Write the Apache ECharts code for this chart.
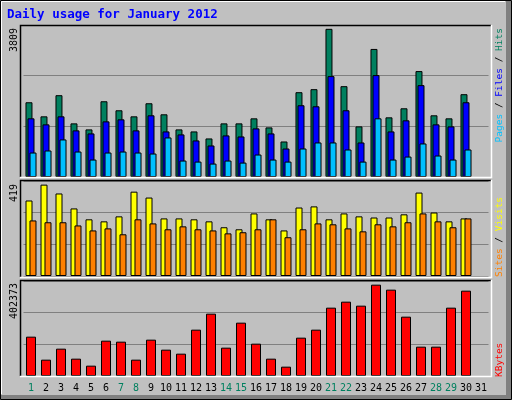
<!DOCTYPE html>
<html><head><meta charset="utf-8">
<script src="https://cdn.jsdelivr.net/npm/echarts@6/dist/echarts.min.js"></script>
<style>html,body{margin:0;padding:0;background:#c0c0c0}#c{width:512px;height:400px}</style>
</head><body><div id="c"></div>
<script>
const days = ['1','2','3','4','5','6','7','8','9','10','11','12','13','14','15','16','17','18','19','20','21','22','23','24','25','26','27','28','29','30','31'];
const weekend = ['1','7','8','14','15','21','22','28','29'];
const hits = [1873,1520,2050,1344,1193,1898,1672,1520,1848,1571,1193,1142,966,1344,1344,1470,1243,890,2125,2201,3713,2276,1268,3209,1495,1722,2654,1546,1470,2075,null];
const files = [1470,1319,1520,1168,1092,1394,1445,1168,1546,1142,1067,916,790,1042,1016,1218,1092,714,1798,1772,2528,1672,865,2554,1142,1420,2302,1319,1268,1873,null];
const pages = [613,664,941,638,437,613,638,613,588,991,412,386,336,412,361,563,437,386,714,865,865,689,386,1470,437,512,840,538,437,689,null];
const visits = [333,403,364,298,250,241,263,372,346,254,254,250,241,215,206,276,250,201,302,307,250,276,263,258,258,272,368,280,241,254,null];
const sites = [245,237,237,223,201,210,184,250,232,206,219,206,201,188,193,206,250,171,206,232,228,210,197,228,219,237,276,241,215,254,null];
const kbytes = [166590,69178,115768,73414,43766,149651,145415,69178,153886,111532,94591,196240,264004,120003,225888,136945,73414,39530,162355,196240,289419,314832,297890,386833,365656,251300,124238,124238,289419,361421,null];
const maxLabels = ['3809','419','402373'];
const maxVals = [3809,419,402373];

const mono = 'DejaVu Sans Mono';
const grids = [{top:25,height:152},{top:181,height:95},{top:281,height:95}];
const frames = [[20,25,491,177],[20,180,491,277],[20,280,491,376]];

function bar(name, data, color, gi, gap){
  return {type:'bar', name, data, xAxisIndex:gi, yAxisIndex:gi, barWidth:7, barGap:gap,
    itemStyle:{color, borderColor:'#000', borderWidth:1}, silent:true, animation:false};
}
const xAxes = grids.map((g,i)=>({type:'category', gridIndex:i, data:days, boundaryGap:true,
  axisLine:{show:false}, axisTick:{show:false},
  axisLabel:{show:i===2, margin:7, fontFamily:mono, fontSize:10, interval:0,
    color:(v)=>weekend.includes(v)?'#00805f':'#000'}}));
const yAxes = grids.map((g,i)=>({type:'value', gridIndex:i, min:0, max:maxVals[i], interval:maxVals[i]/3,
  axisLine:{show:false}, axisTick:{show:false}, axisLabel:{show:false},
  splitLine:{show:true, lineStyle:{color:'#808080', width:1}}}));

const graphic = [
  {type:'rect', shape:{x:0.5,y:0.5,width:511,height:399}, style:{fill:'none', stroke:'#000'}, z:-1},
  {type:'rect', shape:{x:506,y:1,width:5,height:398}, style:{fill:'#808080'}, z:-1},
  {type:'rect', shape:{x:1,y:395,width:510,height:4}, style:{fill:'#808080'}, z:-1},
  {type:'polyline', shape:{points:[[1.5,394],[1.5,1.5],[505,1.5]]}, style:{stroke:'#fff', fill:'none'}, z:-1},
  {type:'text', x:7, y:8, style:{text:'Daily usage for January 2012', fill:'#0000ff', font:'bold 12.5px '+mono}}
];
frames.forEach(f=>{
  graphic.push({type:'rect', shape:{x:f[0],y:f[1],width:f[2]-f[0],height:f[3]-f[1]}, style:{fill:'#c0c0c0'}, z:-1});
  graphic.push({type:'polyline', shape:{points:[[f[0]+0.5,f[3]],[f[0]+0.5,f[1]+0.5],[f[2],f[1]+0.5]]}, style:{stroke:'#000', fill:'none', lineWidth:1.5}, z:10});
  graphic.push({type:'polyline', shape:{points:[[f[0],f[3]+0.5],[f[2]+0.5,f[3]+0.5],[f[2]+0.5,f[1]]]}, style:{stroke:'#fff', fill:'none', lineWidth:1.5}, z:10});
});
const leftTops = [28, 184, 283];
maxLabels.forEach((t,i)=>graphic.push({type:'text', x:14, y:leftTops[i], rotation:Math.PI/2,
  style:{text:t, fill:'#000', font:'10px '+mono, align:'right', verticalAlign:'middle'}}));
const rf = '9.5px '+mono;
graphic.push({type:'text', x:500, y:28, rotation:Math.PI/2, style:{
  text:'{p|Pages}{s| / }{f|Files}{s| / }{h|Hits}', align:'right', verticalAlign:'middle',
  rich:{p:{fill:'#00c0ff',font:rf},f:{fill:'#0000ff',font:rf},h:{fill:'#00805f',font:rf},s:{fill:'#000',font:rf}}}});
graphic.push({type:'text', x:500, y:277, rotation:Math.PI/2, style:{
  text:'{a|Sites}{s| / }{b|Visits}', align:'left', verticalAlign:'middle',
  rich:{a:{fill:'#ff8000',font:rf},b:{fill:'#ffff00',font:rf},s:{fill:'#000',font:rf}}}});
graphic.push({type:'text', x:500, y:377, rotation:Math.PI/2, style:{
  text:'KBytes', fill:'#ff0000', font:rf, align:'left', verticalAlign:'middle'}});

const chart = echarts.init(document.getElementById('c'), null, {renderer:'canvas'});
chart.setOption({
  backgroundColor:'#c0c0c0', animation:false,
  grid: grids.map(g=>({left:23.5, right:23.5, top:g.top, height:g.height, show:false})),
  xAxis: xAxes, yAxis: yAxes, graphic,
  series:[
    bar('Hits',hits,'#00805f',0,'-71%'),
    bar('Files',files,'#0000ff',0,'-71%'),
    bar('Pages',pages,'#00c0ff',0,'-71%'),
    bar('Visits',visits,'#ffff00',1,'-43%'),
    bar('Sites',sites,'#ff8000',1,'-43%'),
    {...bar('KBytes',kbytes,'#ff0000',2,'0%'), barWidth:10}
  ]
});
</script></body></html>
